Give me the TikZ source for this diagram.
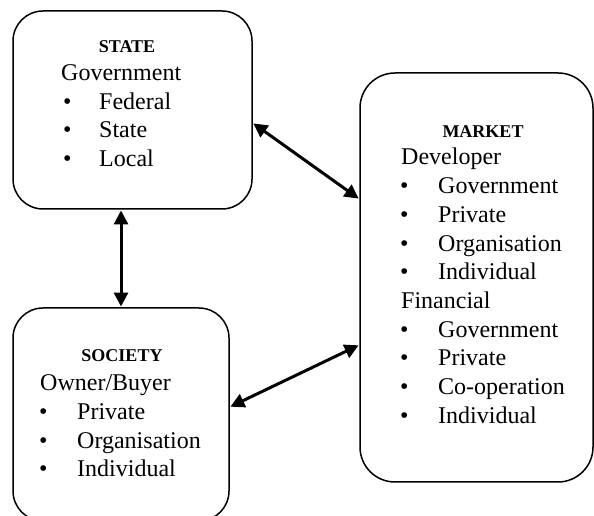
\documentclass[tikz,border=0pt]{standalone}
\usepackage{fontspec}
\setmainfont{Liberation Serif}
\usetikzlibrary{arrows.meta}
\begin{document}
\begin{tikzpicture}[x=1pt,y=1pt,
  box/.style={draw,line width=1.5pt,rounded corners=30pt,minimum width=#1,inner sep=0pt},
  ttl/.style={font=\fontsize{18}{20}\selectfont\bfseries,anchor=base,inner sep=0pt},
  txt/.style={font=\fontsize{24}{28}\selectfont,anchor=base west,inner sep=0pt},
  link/.style={line width=3pt,{Triangle[length=14pt,width=14pt]}-{Triangle[length=14pt,width=14pt]},shorten <=0.7pt,shorten >=0.7pt}]
\useasboundingbox (0,0) rectangle (594,516);
% boxes
\node[box=239pt,minimum height=198pt] (state) at (132.5,406) {};
\node[box=216pt,minimum height=213pt] (society) at (121,101.5) {};
\node[box=233pt,minimum height=409pt,rounded corners=35pt] (market) at (476.5,238.5) {};
% STATE text
\node[ttl] (stt) at (127,463) {STATE};
\node[txt] (st0) at (61,435) {Government};
\foreach \n/\t [count=\i] in {406.5/Federal,378/State,349.5/Local}{
  \node[txt] (stb\i) at (63,\n) {•};
  \node[txt] (stl\i) at (99,\n) {\t};
}
% SOCIETY text
\node[ttl] (sot) at (122,154) {SOCIETY};
\node[txt] (so0) at (40,125) {Owner/Buyer};
\foreach \n/\t [count=\i] in {96/Private,67.5/Organisation,39/Individual}{
  \node[txt] (sob\i) at (39,\n) {•};
  \node[txt] (sol\i) at (77,\n) {\t};
}
% MARKET text
\node[ttl] (mkt) at (483,378) {MARKET};
\node[txt] (mk0) at (401,351) {Developer};
\foreach \n/\t [count=\i] in {322.3/Government,293.6/Private,264.9/Organisation,236.2/Individual}{
  \node[txt] (mkb\i) at (400,\n) {•};
  \node[txt] (mkl\i) at (438,\n) {\t};
}
\node[txt] (mk1) at (401,207.5) {Financial};
\foreach \n/\t [count=\i] in {178.8/Government,150.1/Private,121.4/Co-operation,92.7/Individual}{
  \node[txt] (mfb\i) at (400,\n) {•};
  \node[txt] (mfl\i) at (438,\n) {\t};
}
% connectors
\draw[link] (state.south -| society.north) -- (society.north);
\draw[link] ([yshift=-13pt]state.east) -- ([yshift=78.5pt]market.west);
\draw[link] ([yshift=7.5pt]society.east) -- ([yshift=-67.5pt]market.west);
\end{tikzpicture}
\end{document}
